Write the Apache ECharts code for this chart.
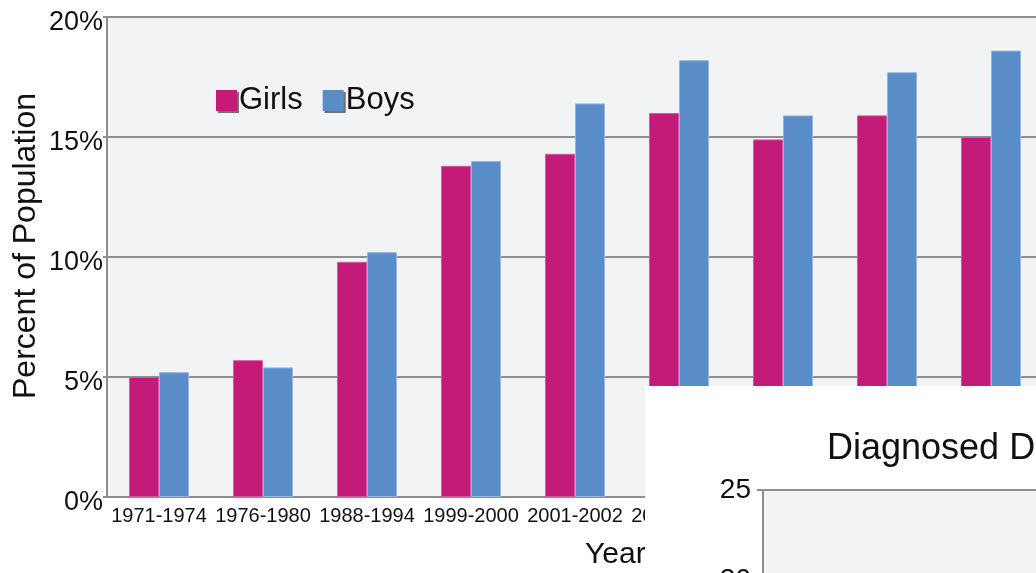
<!DOCTYPE html>
<html lang="en">
<head>
  <meta charset="utf-8">
  <script src="https://cdn.jsdelivr.net/npm/echarts@6/dist/echarts.min.js"></script>
</head>
<body style="margin:0; width:1036px; height:573px; overflow:hidden; position:relative; background:#fff">
  <div id="main" style="position:absolute; left:0; top:0; width:1036px; height:573px"></div>
  <div id="inset" style="position:absolute; left:645px; top:386px; width:391px; height:187px; overflow:hidden; background:#fff">
    <div id="inset_chart" style="width:700px; height:600px"></div>
  </div>

  <script type="text/javascript">
    // survey periods
    var years = ['1971-1974', '1976-1980', '1988-1994', '1999-2000', '2001-2002',
                 '2003-2004', '2005-2006', '2007-2008', '2009-2010'];
    // percent of population
    var girls = [5.0, 5.7, 9.8, 13.8, 14.3, 16.0, 14.9, 15.9, 15.0];
    var boys  = [5.2, 5.4, 10.2, 14.0, 16.4, 18.2, 15.9, 17.7, 18.6];
    var yTicks = [0, 5, 10, 15, 20];

    var font = 'Liberation Sans, Arial, sans-serif';
    var gridColor = '#8e8e8e';

    var chart = echarts.init(document.getElementById('main'));
    var option = {
      animation: false,
      textStyle: { fontFamily: font },
      legend: {
        left: 211, top: 80,
        icon: 'rect',
        itemWidth: 21, itemHeight: 21, itemGap: 20,
        itemStyle: { borderWidth: 0, shadowColor: 'rgba(80,80,80,0.8)', shadowOffsetX: 2, shadowOffsetY: 2 },
        textStyle: { fontSize: 31, color: '#111', fontFamily: font, padding: [0, 0, 0, -3] },
        data: ['Girls', 'Boys']
      },
      grid: {
        left: 107, top: 17, width: 936, height: 480,
        outerBoundsMode: 'none',
        show: true, backgroundColor: '#f2f3f5', borderWidth: 0
      },
      xAxis: {
        type: 'category',
        data: years,
        axisLine: { lineStyle: { color: gridColor, width: 2 } },
        axisTick: { length: 6, lineStyle: { color: '#aaa', width: 2 } },
        axisLabel: {
          interval: 0, color: '#111', fontSize: 20, margin: 9,
          fontFamily: 'Liberation Sans Narrow, Liberation Sans, sans-serif'
        }
      },
      yAxis: {
        type: 'value',
        min: yTicks[0], max: yTicks[yTicks.length - 1], interval: 5,
        axisLine: { show: true, lineStyle: { color: gridColor, width: 2 } },
        axisTick: { show: true, length: 4, lineStyle: { color: gridColor, width: 2 } },
        axisLabel: {
          formatter: '{value}%', fontSize: 27, color: '#111', margin: 4,
          verticalAlign: 'top', lineHeight: 12
        },
        splitLine: { lineStyle: { color: gridColor, width: 2 } }
      },
      series: [
        {
          name: 'Girls', type: 'bar', data: girls,
          barWidth: 30, barGap: '0%',
          itemStyle: { color: '#c41a7a', borderColor: '#d9559f', borderWidth: 1 }
        },
        {
          name: 'Boys', type: 'bar', data: boys,
          barWidth: 30, barGap: '0%',
          itemStyle: { color: '#5a8dc8', borderColor: '#93b7e2', borderWidth: 1 }
        }
      ],
      graphic: [
        {
          type: 'text', x: 26, y: 246, rotation: Math.PI / 2,
          style: {
            text: 'Percent of Population', font: '32px ' + font, fill: '#111',
            align: 'center', verticalAlign: 'middle'
          }
        },
        {
          type: 'text', left: 585, top: 540,
          style: { text: 'Years', font: '30px ' + font, fill: '#111' }
        }
      ]
    };
    chart.setOption(option);

    // second chart peeking in at the bottom right
    var insetTicks = [0, 5, 10, 15, 20, 25];
    var chart2 = echarts.init(document.getElementById('inset_chart'));
    chart2.setOption({
      animation: false,
      title: {
        text: 'Diagnosed D',
        left: 177, top: 40,
        textStyle: { fontSize: 36, fontWeight: 'normal', color: '#111', fontFamily: font }
      },
      grid: {
        left: 118, top: 104, width: 560, height: 450,
        outerBoundsMode: 'none',
        show: true, backgroundColor: '#f2f3f5', borderWidth: 0
      },
      xAxis: {
        type: 'category', data: [''],
        axisLine: { lineStyle: { color: gridColor, width: 2 } },
        axisLabel: { show: false }, axisTick: { show: false }
      },
      yAxis: {
        type: 'value',
        min: insetTicks[0], max: insetTicks[insetTicks.length - 1], interval: 5,
        axisLine: { show: true, lineStyle: { color: gridColor, width: 2 } },
        axisTick: { show: true, length: 6, lineStyle: { color: gridColor, width: 2 } },
        axisLabel: { fontSize: 28, color: '#111', margin: 12, fontFamily: font },
        splitLine: { lineStyle: { color: gridColor, width: 2 } }
      },
      series: []
    });
  </script>
</body>
</html>
